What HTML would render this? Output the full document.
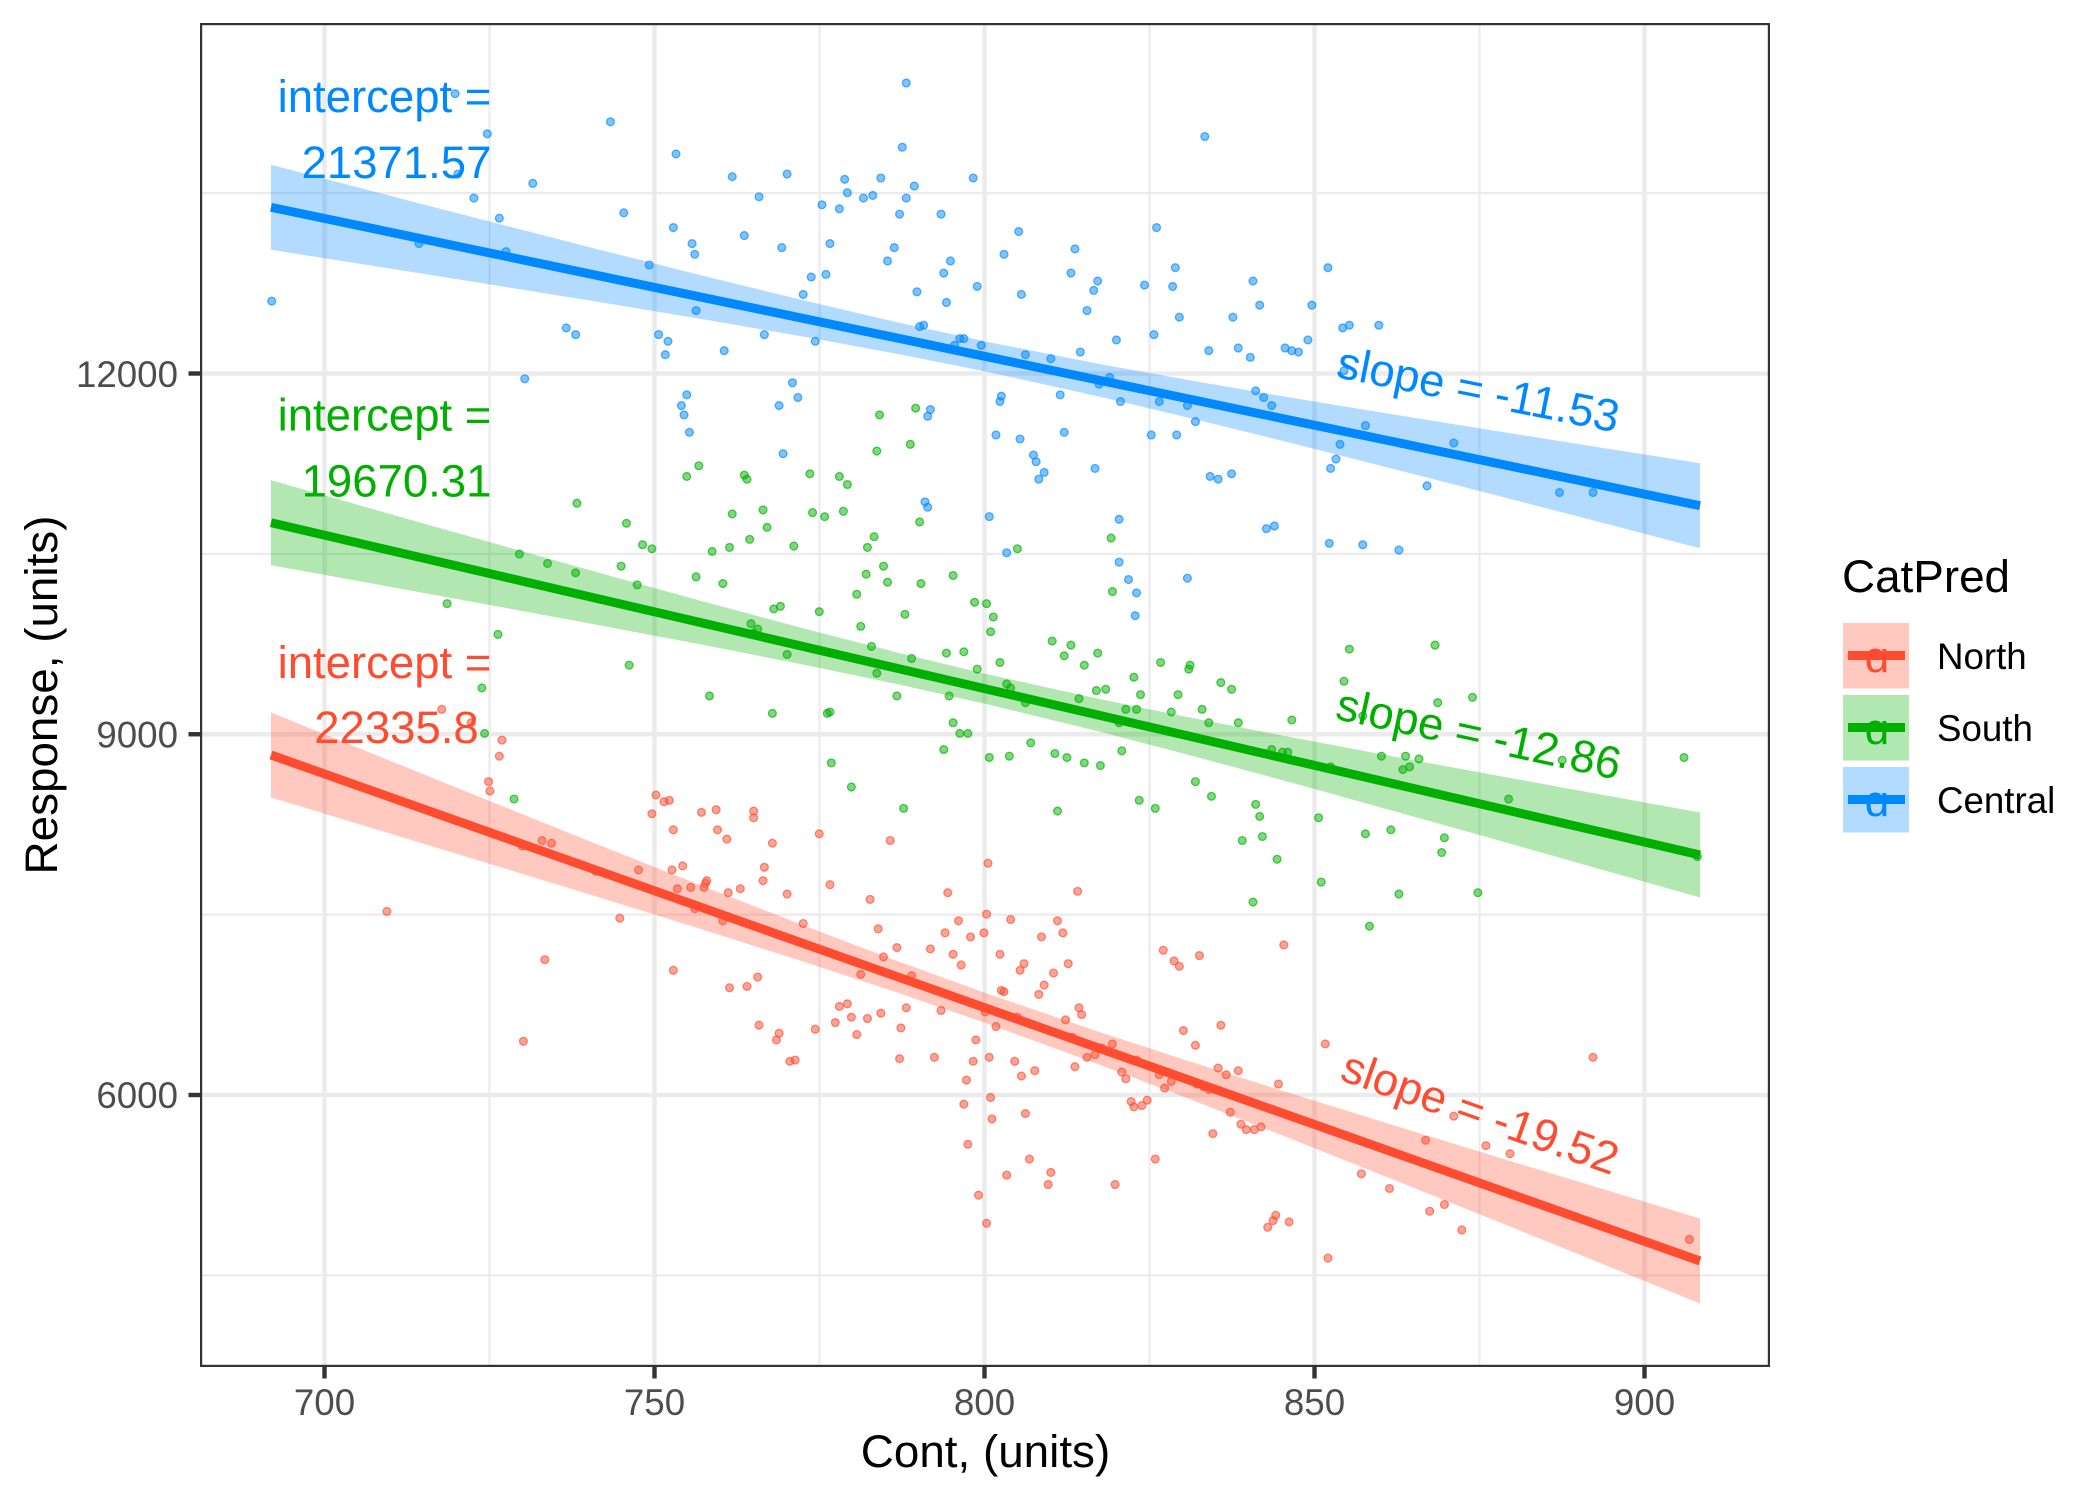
<!DOCTYPE html>
<html><head><meta charset="utf-8"><style>
html,body{margin:0;padding:0;background:#fff}
svg{display:block}
</style></head><body>
<svg width="2099" height="1499" viewBox="0 0 2099 1499" xmlns="http://www.w3.org/2000/svg" font-family="'Liberation Sans', Arial, sans-serif">
<rect width="2099" height="1499" fill="#fff"/>
<defs><clipPath id="p"><rect x="200" y="23" width="1570" height="1344"/></clipPath></defs>
<g clip-path="url(#p)">
<!-- minor grid -->
<g stroke="#EBEBEB" stroke-width="2.2">
<line x1="489.5" y1="23" x2="489.5" y2="1367"/><line x1="819.5" y1="23" x2="819.5" y2="1367"/><line x1="1149.5" y1="23" x2="1149.5" y2="1367"/><line x1="1479.5" y1="23" x2="1479.5" y2="1367"/>
<line x1="200" y1="193.1" x2="1770" y2="193.1"/><line x1="200" y1="553.9" x2="1770" y2="553.9"/><line x1="200" y1="914.6" x2="1770" y2="914.6"/><line x1="200" y1="1275.4" x2="1770" y2="1275.4"/>
</g>
<!-- major grid -->
<g stroke="#EBEBEB" stroke-width="4.4">
<line x1="324.5" y1="23" x2="324.5" y2="1367"/><line x1="654.5" y1="23" x2="654.5" y2="1367"/><line x1="984.5" y1="23" x2="984.5" y2="1367"/><line x1="1314.5" y1="23" x2="1314.5" y2="1367"/><line x1="1644.5" y1="23" x2="1644.5" y2="1367"/>
<line x1="200" y1="373.5" x2="1770" y2="373.5"/><line x1="200" y1="734.25" x2="1770" y2="734.25"/><line x1="200" y1="1095" x2="1770" y2="1095"/>
</g>
<!-- points (perceived coords scaled) -->
<g transform="scale(1.33865 1.33839)" stroke-width="1">
<g fill="#0088FF" fill-opacity="0.5" stroke="#0088FF" stroke-opacity="0.65">
<circle cx="203" cy="225" r="2.9"/><circle cx="340" cy="70" r="2.9"/><circle cx="364" cy="100" r="2.9"/><circle cx="342" cy="130" r="2.9"/><circle cx="354" cy="148" r="2.9"/><circle cx="373" cy="163" r="2.9"/><circle cx="378" cy="188" r="2.9"/><circle cx="313" cy="182" r="2.9"/><circle cx="392" cy="283" r="2.9"/><circle cx="398" cy="137" r="2.9"/><circle cx="423" cy="245" r="2.9"/><circle cx="430" cy="250" r="2.9"/><circle cx="456" cy="91" r="2.9"/><circle cx="466" cy="159" r="2.9"/><circle cx="505" cy="115" r="2.9"/><circle cx="503" cy="170" r="2.9"/><circle cx="485" cy="198" r="2.9"/><circle cx="492" cy="250" r="2.9"/><circle cx="497" cy="265" r="2.9"/><circle cx="499" cy="255" r="2.9"/><circle cx="519" cy="190" r="2.9"/><circle cx="517" cy="182" r="2.9"/><circle cx="509" cy="303" r="2.9"/><circle cx="513" cy="295" r="2.9"/><circle cx="515" cy="323" r="2.9"/><circle cx="511" cy="310" r="2.9"/><circle cx="520" cy="232" r="2.9"/><circle cx="541" cy="262" r="2.9"/><circle cx="547" cy="132" r="2.9"/><circle cx="556" cy="176" r="2.9"/><circle cx="567" cy="147" r="2.9"/><circle cx="571" cy="250" r="2.9"/><circle cx="582" cy="303" r="2.9"/><circle cx="585" cy="339" r="2.9"/><circle cx="588" cy="130" r="2.9"/><circle cx="584" cy="185" r="2.9"/><circle cx="592" cy="286" r="2.9"/><circle cx="596" cy="297" r="2.9"/><circle cx="600" cy="220" r="2.9"/><circle cx="606" cy="207" r="2.9"/><circle cx="609" cy="255" r="2.9"/><circle cx="614" cy="153" r="2.9"/><circle cx="617" cy="205" r="2.9"/><circle cx="620" cy="182" r="2.9"/><circle cx="627" cy="156" r="2.9"/><circle cx="631" cy="134" r="2.9"/><circle cx="633" cy="144" r="2.9"/><circle cx="645" cy="148" r="2.9"/><circle cx="652" cy="146" r="2.9"/><circle cx="658" cy="133" r="2.9"/><circle cx="663" cy="195" r="2.9"/><circle cx="668" cy="185" r="2.9"/><circle cx="672" cy="160" r="2.9"/><circle cx="677" cy="62" r="2.9"/><circle cx="674" cy="110" r="2.9"/><circle cx="677" cy="148" r="2.9"/><circle cx="683" cy="139" r="2.9"/><circle cx="685" cy="218" r="2.9"/><circle cx="687" cy="244" r="2.9"/><circle cx="690" cy="243" r="2.9"/><circle cx="693" cy="311" r="2.9"/><circle cx="695" cy="306" r="2.9"/><circle cx="691" cy="375" r="2.9"/><circle cx="693" cy="379" r="2.9"/><circle cx="703" cy="160" r="2.9"/><circle cx="707" cy="226" r="2.9"/><circle cx="710" cy="195" r="2.9"/><circle cx="705" cy="204" r="2.9"/><circle cx="713" cy="258" r="2.9"/><circle cx="717" cy="253" r="2.9"/><circle cx="720" cy="253" r="2.9"/><circle cx="727" cy="133" r="2.9"/><circle cx="730" cy="214" r="2.9"/><circle cx="733" cy="258" r="2.9"/><circle cx="739" cy="386" r="2.9"/><circle cx="744" cy="325" r="2.9"/><circle cx="747" cy="300" r="2.9"/><circle cx="748" cy="296" r="2.9"/><circle cx="750" cy="190" r="2.9"/><circle cx="752" cy="413" r="2.9"/><circle cx="761" cy="173" r="2.9"/><circle cx="763" cy="220" r="2.9"/><circle cx="762" cy="328" r="2.9"/><circle cx="766" cy="265" r="2.9"/><circle cx="772" cy="340" r="2.9"/><circle cx="774" cy="345" r="2.9"/><circle cx="780" cy="353" r="2.9"/><circle cx="776" cy="358" r="2.9"/><circle cx="785" cy="268" r="2.9"/><circle cx="792" cy="295" r="2.9"/><circle cx="795" cy="323" r="2.9"/><circle cx="803" cy="186" r="2.9"/><circle cx="800" cy="204" r="2.9"/><circle cx="807" cy="263" r="2.9"/><circle cx="812" cy="232" r="2.9"/><circle cx="817" cy="217" r="2.9"/><circle cx="818" cy="350" r="2.9"/><circle cx="821" cy="287" r="2.9"/><circle cx="820" cy="210" r="2.9"/><circle cx="829" cy="282" r="2.9"/><circle cx="834" cy="254" r="2.9"/><circle cx="837" cy="300" r="2.9"/><circle cx="836" cy="388" r="2.9"/><circle cx="836" cy="420" r="2.9"/><circle cx="843" cy="433" r="2.9"/><circle cx="848" cy="460" r="2.9"/><circle cx="849" cy="443" r="2.9"/><circle cx="855" cy="213" r="2.9"/><circle cx="860" cy="325" r="2.9"/><circle cx="862" cy="250" r="2.9"/><circle cx="864" cy="170" r="2.9"/><circle cx="866" cy="300" r="2.9"/><circle cx="876" cy="214" r="2.9"/><circle cx="878" cy="200" r="2.9"/><circle cx="879" cy="325" r="2.9"/><circle cx="881" cy="237" r="2.9"/><circle cx="887" cy="432" r="2.9"/><circle cx="887" cy="303" r="2.9"/><circle cx="893" cy="315" r="2.9"/><circle cx="900" cy="102" r="2.9"/><circle cx="903" cy="262" r="2.9"/><circle cx="904" cy="356" r="2.9"/><circle cx="910" cy="358" r="2.9"/><circle cx="920" cy="354" r="2.9"/><circle cx="921" cy="237" r="2.9"/><circle cx="925" cy="260" r="2.9"/><circle cx="934" cy="267" r="2.9"/><circle cx="936" cy="210" r="2.9"/><circle cx="938" cy="292" r="2.9"/><circle cx="941" cy="228" r="2.9"/><circle cx="944" cy="297" r="2.9"/><circle cx="946" cy="395" r="2.9"/><circle cx="950" cy="303" r="2.9"/><circle cx="952" cy="393" r="2.9"/><circle cx="960" cy="260" r="2.9"/><circle cx="965" cy="262" r="2.9"/><circle cx="970" cy="263" r="2.9"/><circle cx="977" cy="254" r="2.9"/><circle cx="980" cy="228" r="2.9"/><circle cx="992" cy="200" r="2.9"/><circle cx="993" cy="406" r="2.9"/><circle cx="994" cy="350" r="2.9"/><circle cx="998" cy="343" r="2.9"/><circle cx="1001" cy="332" r="2.9"/><circle cx="1004" cy="277" r="2.9"/><circle cx="1018" cy="407" r="2.9"/><circle cx="1020" cy="318" r="2.9"/><circle cx="1045" cy="411" r="2.9"/><circle cx="1066" cy="363" r="2.9"/><circle cx="1086" cy="331" r="2.9"/><circle cx="1165" cy="368" r="2.9"/><circle cx="1190" cy="368" r="2.9"/><circle cx="1030" cy="243" r="2.9"/><circle cx="1003" cy="245" r="2.9"/><circle cx="1008" cy="243" r="2.9"/>
</g>
<g fill="#00AF00" fill-opacity="0.5" stroke="#00AF00" stroke-opacity="0.65">
<circle cx="334" cy="451" r="2.9"/><circle cx="360" cy="514" r="2.9"/><circle cx="362" cy="548" r="2.9"/><circle cx="372" cy="474" r="2.9"/><circle cx="384" cy="597" r="2.9"/><circle cx="388" cy="414" r="2.9"/><circle cx="409" cy="421" r="2.9"/><circle cx="430" cy="428" r="2.9"/><circle cx="431" cy="376" r="2.9"/><circle cx="464" cy="423" r="2.9"/><circle cx="468" cy="391" r="2.9"/><circle cx="470" cy="497" r="2.9"/><circle cx="476" cy="437" r="2.9"/><circle cx="480" cy="407" r="2.9"/><circle cx="487" cy="410" r="2.9"/><circle cx="513" cy="356" r="2.9"/><circle cx="520" cy="431" r="2.9"/><circle cx="522" cy="348" r="2.9"/><circle cx="530" cy="520" r="2.9"/><circle cx="532" cy="412" r="2.9"/><circle cx="540" cy="436" r="2.9"/><circle cx="545" cy="409" r="2.9"/><circle cx="547" cy="384" r="2.9"/><circle cx="556" cy="355" r="2.9"/><circle cx="558" cy="358" r="2.9"/><circle cx="560" cy="403" r="2.9"/><circle cx="561" cy="466" r="2.9"/><circle cx="563" cy="473" r="2.9"/><circle cx="566" cy="470" r="2.9"/><circle cx="570" cy="381" r="2.9"/><circle cx="573" cy="394" r="2.9"/><circle cx="577" cy="533" r="2.9"/><circle cx="578" cy="455" r="2.9"/><circle cx="583" cy="453" r="2.9"/><circle cx="588" cy="489" r="2.9"/><circle cx="593" cy="408" r="2.9"/><circle cx="605" cy="354" r="2.9"/><circle cx="607" cy="383" r="2.9"/><circle cx="612" cy="457" r="2.9"/><circle cx="616" cy="386" r="2.9"/><circle cx="618" cy="533" r="2.9"/><circle cx="620" cy="532" r="2.9"/><circle cx="621" cy="570" r="2.9"/><circle cx="627" cy="356" r="2.9"/><circle cx="630" cy="382" r="2.9"/><circle cx="633" cy="362" r="2.9"/><circle cx="636" cy="588" r="2.9"/><circle cx="640" cy="444" r="2.9"/><circle cx="643" cy="468" r="2.9"/><circle cx="647" cy="429" r="2.9"/><circle cx="648" cy="409" r="2.9"/><circle cx="651" cy="483" r="2.9"/><circle cx="653" cy="401" r="2.9"/><circle cx="655" cy="503" r="2.9"/><circle cx="655" cy="337" r="2.9"/><circle cx="657" cy="310" r="2.9"/><circle cx="660" cy="423" r="2.9"/><circle cx="663" cy="435" r="2.9"/><circle cx="670" cy="520" r="2.9"/><circle cx="676" cy="459" r="2.9"/><circle cx="675" cy="604" r="2.9"/><circle cx="680" cy="332" r="2.9"/><circle cx="681" cy="492" r="2.9"/><circle cx="684" cy="305" r="2.9"/><circle cx="687" cy="390" r="2.9"/><circle cx="688" cy="436" r="2.9"/><circle cx="690" cy="257" r="2.9"/><circle cx="705" cy="560" r="2.9"/><circle cx="707" cy="488" r="2.9"/><circle cx="709" cy="520" r="2.9"/><circle cx="712" cy="540" r="2.9"/><circle cx="712" cy="430" r="2.9"/><circle cx="717" cy="548" r="2.9"/><circle cx="720" cy="487" r="2.9"/><circle cx="723" cy="548" r="2.9"/><circle cx="728" cy="450" r="2.9"/><circle cx="730" cy="500" r="2.9"/><circle cx="737" cy="451" r="2.9"/><circle cx="739" cy="566" r="2.9"/><circle cx="740" cy="472" r="2.9"/><circle cx="742" cy="461" r="2.9"/><circle cx="747" cy="495" r="2.9"/><circle cx="752" cy="511" r="2.9"/><circle cx="754" cy="565" r="2.9"/><circle cx="755" cy="514" r="2.9"/><circle cx="760" cy="410" r="2.9"/><circle cx="766" cy="525" r="2.9"/><circle cx="770" cy="555" r="2.9"/><circle cx="786" cy="479" r="2.9"/><circle cx="788" cy="563" r="2.9"/><circle cx="790" cy="606" r="2.9"/><circle cx="795" cy="490" r="2.9"/><circle cx="797" cy="566" r="2.9"/><circle cx="800" cy="482" r="2.9"/><circle cx="806" cy="522" r="2.9"/><circle cx="810" cy="497" r="2.9"/><circle cx="810" cy="570" r="2.9"/><circle cx="819" cy="516" r="2.9"/><circle cx="822" cy="572" r="2.9"/><circle cx="826" cy="515" r="2.9"/><circle cx="830" cy="402" r="2.9"/><circle cx="831" cy="442" r="2.9"/><circle cx="836" cy="540" r="2.9"/><circle cx="838" cy="561" r="2.9"/><circle cx="841" cy="530" r="2.9"/><circle cx="847" cy="506" r="2.9"/><circle cx="849" cy="530" r="2.9"/><circle cx="851" cy="598" r="2.9"/><circle cx="852" cy="519" r="2.9"/><circle cx="863" cy="604" r="2.9"/><circle cx="867" cy="495" r="2.9"/><circle cx="875" cy="532" r="2.9"/><circle cx="880" cy="519" r="2.9"/><circle cx="888" cy="500" r="2.9"/><circle cx="889" cy="497" r="2.9"/><circle cx="893" cy="584" r="2.9"/><circle cx="898" cy="530" r="2.9"/><circle cx="903" cy="540" r="2.9"/><circle cx="905" cy="595" r="2.9"/><circle cx="912" cy="510" r="2.9"/><circle cx="920" cy="515" r="2.9"/><circle cx="925" cy="540" r="2.9"/><circle cx="928" cy="628" r="2.9"/><circle cx="936" cy="674" r="2.9"/><circle cx="938" cy="601" r="2.9"/><circle cx="941" cy="610" r="2.9"/><circle cx="943" cy="625" r="2.9"/><circle cx="950" cy="560" r="2.9"/><circle cx="954" cy="642" r="2.9"/><circle cx="958" cy="562" r="2.9"/><circle cx="962" cy="562" r="2.9"/><circle cx="965" cy="538" r="2.9"/><circle cx="985" cy="611" r="2.9"/><circle cx="987" cy="659" r="2.9"/><circle cx="994" cy="573" r="2.9"/><circle cx="1004" cy="509" r="2.9"/><circle cx="1008" cy="485" r="2.9"/><circle cx="1018" cy="535" r="2.9"/><circle cx="1020" cy="623" r="2.9"/><circle cx="1023" cy="692" r="2.9"/><circle cx="1032" cy="565" r="2.9"/><circle cx="1039" cy="620" r="2.9"/><circle cx="1045" cy="668" r="2.9"/><circle cx="1048" cy="575" r="2.9"/><circle cx="1050" cy="565" r="2.9"/><circle cx="1053" cy="573" r="2.9"/><circle cx="1060" cy="567" r="2.9"/><circle cx="1072" cy="482" r="2.9"/><circle cx="1074" cy="525" r="2.9"/><circle cx="1077" cy="637" r="2.9"/><circle cx="1079" cy="626" r="2.9"/><circle cx="1100" cy="521" r="2.9"/><circle cx="1104" cy="667" r="2.9"/><circle cx="1127" cy="597" r="2.9"/><circle cx="1167" cy="568" r="2.9"/><circle cx="1258" cy="566" r="2.9"/><circle cx="1268" cy="640" r="2.9"/><circle cx="820" cy="488" r="2.9"/>
</g>
<g fill="#FF4B30" fill-opacity="0.5" stroke="#FF4B30" stroke-opacity="0.65">
<circle cx="289" cy="681" r="2.9"/><circle cx="330" cy="530" r="2.9"/><circle cx="352" cy="540" r="2.9"/><circle cx="365" cy="584" r="2.9"/><circle cx="366" cy="591" r="2.9"/><circle cx="373" cy="565" r="2.9"/><circle cx="375" cy="553" r="2.9"/><circle cx="390" cy="632" r="2.9"/><circle cx="405" cy="628" r="2.9"/><circle cx="412" cy="630" r="2.9"/><circle cx="391" cy="778" r="2.9"/><circle cx="407" cy="717" r="2.9"/><circle cx="445" cy="651" r="2.9"/><circle cx="463" cy="686" r="2.9"/><circle cx="477" cy="650" r="2.9"/><circle cx="487" cy="608" r="2.9"/><circle cx="490" cy="594" r="2.9"/><circle cx="496" cy="599" r="2.9"/><circle cx="500" cy="598" r="2.9"/><circle cx="503" cy="620" r="2.9"/><circle cx="502" cy="650" r="2.9"/><circle cx="503" cy="725" r="2.9"/><circle cx="506" cy="664" r="2.9"/><circle cx="510" cy="647" r="2.9"/><circle cx="516" cy="663" r="2.9"/><circle cx="519" cy="679" r="2.9"/><circle cx="524" cy="607" r="2.9"/><circle cx="526" cy="663" r="2.9"/><circle cx="527" cy="660" r="2.9"/><circle cx="528" cy="658" r="2.9"/><circle cx="535" cy="605" r="2.9"/><circle cx="536" cy="620" r="2.9"/><circle cx="540" cy="688" r="2.9"/><circle cx="543" cy="627" r="2.9"/><circle cx="544" cy="667" r="2.9"/><circle cx="545" cy="738" r="2.9"/><circle cx="553" cy="664" r="2.9"/><circle cx="558" cy="737" r="2.9"/><circle cx="563" cy="606" r="2.9"/><circle cx="563" cy="611" r="2.9"/><circle cx="566" cy="730" r="2.9"/><circle cx="567" cy="766" r="2.9"/><circle cx="570" cy="658" r="2.9"/><circle cx="571" cy="648" r="2.9"/><circle cx="577" cy="630" r="2.9"/><circle cx="580" cy="777" r="2.9"/><circle cx="582" cy="772" r="2.9"/><circle cx="588" cy="668" r="2.9"/><circle cx="590" cy="793" r="2.9"/><circle cx="594" cy="792" r="2.9"/><circle cx="600" cy="690" r="2.9"/><circle cx="609" cy="769" r="2.9"/><circle cx="612" cy="623" r="2.9"/><circle cx="620" cy="661" r="2.9"/><circle cx="624" cy="764" r="2.9"/><circle cx="627" cy="752" r="2.9"/><circle cx="633" cy="750" r="2.9"/><circle cx="636" cy="760" r="2.9"/><circle cx="640" cy="773" r="2.9"/><circle cx="643" cy="728" r="2.9"/><circle cx="648" cy="761" r="2.9"/><circle cx="650" cy="672" r="2.9"/><circle cx="656" cy="694" r="2.9"/><circle cx="658" cy="757" r="2.9"/><circle cx="660" cy="715" r="2.9"/><circle cx="665" cy="628" r="2.9"/><circle cx="670" cy="708" r="2.9"/><circle cx="672" cy="791" r="2.9"/><circle cx="673" cy="768" r="2.9"/><circle cx="677" cy="753" r="2.9"/><circle cx="681" cy="729" r="2.9"/><circle cx="695" cy="709" r="2.9"/><circle cx="698" cy="790" r="2.9"/><circle cx="703" cy="755" r="2.9"/><circle cx="706" cy="697" r="2.9"/><circle cx="708" cy="667" r="2.9"/><circle cx="712" cy="713" r="2.9"/><circle cx="716" cy="688" r="2.9"/><circle cx="718" cy="721" r="2.9"/><circle cx="720" cy="825" r="2.9"/><circle cx="722" cy="807" r="2.9"/><circle cx="723" cy="855" r="2.9"/><circle cx="725" cy="700" r="2.9"/><circle cx="727" cy="793" r="2.9"/><circle cx="729" cy="777" r="2.9"/><circle cx="731" cy="893" r="2.9"/><circle cx="735" cy="697" r="2.9"/><circle cx="736" cy="756" r="2.9"/><circle cx="737" cy="683" r="2.9"/><circle cx="737" cy="914" r="2.9"/><circle cx="738" cy="645" r="2.9"/><circle cx="739" cy="790" r="2.9"/><circle cx="740" cy="820" r="2.9"/><circle cx="741" cy="836" r="2.9"/><circle cx="744" cy="767" r="2.9"/><circle cx="747" cy="713" r="2.9"/><circle cx="748" cy="740" r="2.9"/><circle cx="750" cy="741" r="2.9"/><circle cx="752" cy="878" r="2.9"/><circle cx="755" cy="687" r="2.9"/><circle cx="758" cy="793" r="2.9"/><circle cx="760" cy="760" r="2.9"/><circle cx="762" cy="725" r="2.9"/><circle cx="763" cy="804" r="2.9"/><circle cx="765" cy="720" r="2.9"/><circle cx="766" cy="832" r="2.9"/><circle cx="769" cy="866" r="2.9"/><circle cx="773" cy="800" r="2.9"/><circle cx="776" cy="743" r="2.9"/><circle cx="778" cy="700" r="2.9"/><circle cx="780" cy="736" r="2.9"/><circle cx="783" cy="885" r="2.9"/><circle cx="785" cy="876" r="2.9"/><circle cx="787" cy="727" r="2.9"/><circle cx="790" cy="688" r="2.9"/><circle cx="794" cy="697" r="2.9"/><circle cx="796" cy="762" r="2.9"/><circle cx="798" cy="720" r="2.9"/><circle cx="801" cy="775" r="2.9"/><circle cx="803" cy="797" r="2.9"/><circle cx="805" cy="666" r="2.9"/><circle cx="806" cy="753" r="2.9"/><circle cx="808" cy="758" r="2.9"/><circle cx="812" cy="790" r="2.9"/><circle cx="818" cy="788" r="2.9"/><circle cx="823" cy="783" r="2.9"/><circle cx="831" cy="780" r="2.9"/><circle cx="833" cy="885" r="2.9"/><circle cx="838" cy="801" r="2.9"/><circle cx="841" cy="806" r="2.9"/><circle cx="845" cy="823" r="2.9"/><circle cx="847" cy="827" r="2.9"/><circle cx="849" cy="792" r="2.9"/><circle cx="853" cy="826" r="2.9"/><circle cx="857" cy="822" r="2.9"/><circle cx="863" cy="866" r="2.9"/><circle cx="866" cy="803" r="2.9"/><circle cx="869" cy="710" r="2.9"/><circle cx="870" cy="813" r="2.9"/><circle cx="875" cy="808" r="2.9"/><circle cx="877" cy="718" r="2.9"/><circle cx="881" cy="722" r="2.9"/><circle cx="884" cy="770" r="2.9"/><circle cx="893" cy="781" r="2.9"/><circle cx="894" cy="810" r="2.9"/><circle cx="896" cy="714" r="2.9"/><circle cx="899" cy="812" r="2.9"/><circle cx="903" cy="814" r="2.9"/><circle cx="906" cy="847" r="2.9"/><circle cx="910" cy="798" r="2.9"/><circle cx="912" cy="766" r="2.9"/><circle cx="916" cy="803" r="2.9"/><circle cx="919" cy="831" r="2.9"/><circle cx="925" cy="800" r="2.9"/><circle cx="927" cy="840" r="2.9"/><circle cx="931" cy="844" r="2.9"/><circle cx="937" cy="844" r="2.9"/><circle cx="942" cy="842" r="2.9"/><circle cx="947" cy="917" r="2.9"/><circle cx="951" cy="912" r="2.9"/><circle cx="953" cy="908" r="2.9"/><circle cx="955" cy="810" r="2.9"/><circle cx="963" cy="913" r="2.9"/><circle cx="959" cy="706" r="2.9"/><circle cx="992" cy="940" r="2.9"/><circle cx="990" cy="780" r="2.9"/><circle cx="1017" cy="877" r="2.9"/><circle cx="1038" cy="888" r="2.9"/><circle cx="1065" cy="852" r="2.9"/><circle cx="1068" cy="905" r="2.9"/><circle cx="1079" cy="900" r="2.9"/><circle cx="1086" cy="834" r="2.9"/><circle cx="1092" cy="919" r="2.9"/><circle cx="1110" cy="856" r="2.9"/><circle cx="1128" cy="862" r="2.9"/><circle cx="1190" cy="790" r="2.9"/><circle cx="1262" cy="926" r="2.9"/>
</g>
</g>
<!-- ribbons -->
<path fill="#FF4B30" fill-opacity="0.3" d="M271,712.5 L400,764.81 L500,805.19 L600,845.32 L700,885.05 L800,924.1 L900,961.98 L985.5,993 L1100,1032.24 L1200,1064.78 L1300,1096.31 L1400,1127.25 L1500,1157.86 L1600,1188.25 L1700,1218.5 L1700,1303.5 L1600,1262.93 L1500,1222.5 L1400,1182.29 L1300,1142.41 L1200,1103.12 L1100,1064.84 L985.5,1023 L900,993.46 L800,960.52 L700,928.75 L600,897.68 L500,866.99 L400,836.55 L271,797.5 Z"/>
<line x1="271" y1="755" x2="1700" y2="1261" stroke="#FF4B30" stroke-width="8.9"/>
<path fill="#00AF00" fill-opacity="0.3" d="M271,480.2 L400,516.83 L500,545.05 L600,573.03 L700,600.61 L800,627.5 L900,653.23 L985.5,673.85 L1100,699.18 L1200,719.56 L1300,738.93 L1400,757.72 L1500,776.17 L1600,794.41 L1700,812.5 L1700,897.5 L1600,869.09 L1500,840.81 L1400,812.76 L1300,785.03 L1200,757.9 L1100,731.78 L985.5,703.85 L900,684.71 L800,663.92 L700,644.31 L600,625.39 L500,606.85 L400,588.57 L271,565.2 Z"/>
<line x1="271" y1="522.7" x2="1700" y2="855" stroke="#00AF00" stroke-width="8.9"/>
<path fill="#0088FF" fill-opacity="0.3" d="M271,164.8 L400,198.37 L500,224.22 L600,249.82 L700,275.03 L800,299.56 L900,322.91 L985.5,341.5 L1100,364.11 L1200,382.12 L1300,399.13 L1400,415.54 L1500,431.62 L1600,447.48 L1700,463.2 L1700,548.2 L1600,522.16 L1500,496.26 L1400,470.58 L1300,445.23 L1200,420.46 L1100,396.71 L985.5,371.5 L900,354.39 L800,335.98 L700,318.73 L600,302.18 L500,286.02 L400,270.11 L271,249.8 Z"/>
<line x1="271" y1="207.3" x2="1700" y2="505.7" stroke="#0088FF" stroke-width="8.9"/>
<!-- annotations -->
<g font-size="45.5">
<text x="384.5" y="112" text-anchor="middle" fill="#0088FF">intercept =</text>
<text x="396.5" y="178" text-anchor="middle" fill="#0088FF">21371.57</text>
<text x="384.5" y="430.7" text-anchor="middle" fill="#00AF00">intercept =</text>
<text x="396.5" y="496.7" text-anchor="middle" fill="#00AF00">19670.31</text>
<text x="384.5" y="678" text-anchor="middle" fill="#FF4B30">intercept =</text>
<text x="396.5" y="743" text-anchor="middle" fill="#FF4B30">22335.8</text>
<text transform="translate(1335,377) rotate(11.2)" fill="#0088FF">slope = -11.53</text>
<text transform="translate(1334,718.6) rotate(12.2)" fill="#00AF00">slope = -12.86</text>
<text transform="translate(1338.5,1079.5) rotate(19.3)" fill="#FF4B30">slope = -19.52</text>
</g>
</g>
<!-- panel border -->
<rect x="201.1" y="24.1" width="1567.8" height="1341.8" fill="none" stroke="#333333" stroke-width="2.2"/>
<!-- ticks -->
<g stroke="#333333" stroke-width="4.4">
<line x1="324.5" y1="1367" x2="324.5" y2="1378.5"/><line x1="654.5" y1="1367" x2="654.5" y2="1378.5"/><line x1="984.5" y1="1367" x2="984.5" y2="1378.5"/><line x1="1314.5" y1="1367" x2="1314.5" y2="1378.5"/><line x1="1644.5" y1="1367" x2="1644.5" y2="1378.5"/>
<line x1="188.5" y1="373.5" x2="200" y2="373.5"/><line x1="188.5" y1="734.25" x2="200" y2="734.25"/><line x1="188.5" y1="1095" x2="200" y2="1095"/>
</g>
<!-- tick labels -->
<g font-size="36.7" fill="#4D4D4D">
<text x="324.5" y="1415" text-anchor="middle">700</text>
<text x="654.5" y="1415" text-anchor="middle">750</text>
<text x="984.5" y="1415" text-anchor="middle">800</text>
<text x="1314.5" y="1415" text-anchor="middle">850</text>
<text x="1644.5" y="1415" text-anchor="middle">900</text>
<text x="178" y="387" text-anchor="end">12000</text>
<text x="178" y="747.5" text-anchor="end">9000</text>
<text x="178" y="1108" text-anchor="end">6000</text>
</g>
<!-- axis titles -->
<text x="985.5" y="1467" text-anchor="middle" font-size="45.8" fill="#000">Cont, (units)</text>
<text transform="translate(57,695) rotate(-90)" text-anchor="middle" font-size="45.8" fill="#000">Response, (units)</text>
<!-- legend -->
<text x="1842" y="592" font-size="45.8" fill="#000">CatPred</text>
<rect x="1843" y="623" width="66" height="65.5" fill="#FF4B30" fill-opacity="0.3"/>
<rect x="1843" y="695" width="66" height="65.5" fill="#00AF00" fill-opacity="0.3"/>
<rect x="1843" y="767" width="66" height="65.5" fill="#0088FF" fill-opacity="0.3"/>
<line x1="1848" y1="655.5" x2="1905" y2="655.5" stroke="#FF4B30" stroke-width="8.9"/>
<line x1="1848" y1="727.5" x2="1905" y2="727.5" stroke="#00AF00" stroke-width="8.9"/>
<line x1="1848" y1="799.5" x2="1905" y2="799.5" stroke="#0088FF" stroke-width="8.9"/>
<g font-size="44" text-anchor="middle" font-family="'Liberation Sans','DejaVu Sans',sans-serif">
<text x="1877" y="672" fill="#FF4B30">ɑ</text>
<text x="1877" y="744" fill="#00AF00">ɑ</text>
<text x="1877" y="816" fill="#0088FF">ɑ</text>
</g>
<g font-size="36.7" fill="#000">
<text x="1937" y="669">North</text>
<text x="1937" y="741">South</text>
<text x="1937" y="813">Central</text>
</g>
</svg>
</body></html>
